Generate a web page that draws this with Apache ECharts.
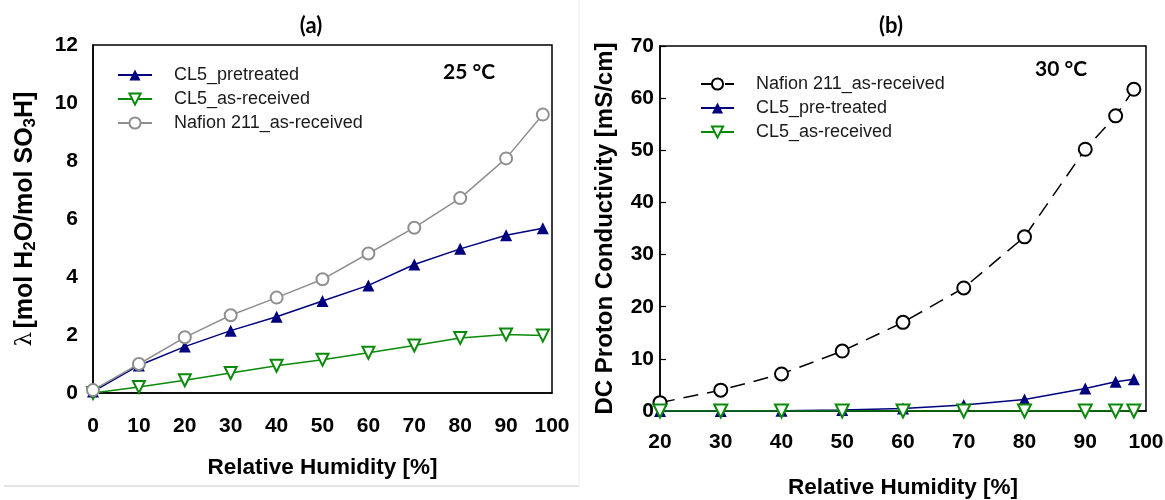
<!DOCTYPE html>
<html>
<head>
<meta charset="utf-8">
<script src="https://cdn.jsdelivr.net/npm/echarts@6/dist/echarts.min.js"></script>
<style>
  html, body { margin: 0; padding: 0; background: #fff; }
  #wrap { position: relative; width: 1165px; height: 500px; }
  #chartA { position: absolute; left: 0; top: 0; width: 580px; height: 500px; }
  #chartB { position: absolute; left: 580px; top: 0; width: 585px; height: 500px; }
</style>
</head>
<body>
<div id="wrap">
  <div id="chartA"></div>
  <div id="chartB"></div>
</div>
<script>
  // (a) water uptake at 25 °C
  const rhA = [0, 10, 20, 30, 40, 50, 60, 70, 80, 90, 98];
  const cl5PretreatedA = [0.05, 0.95, 1.6, 2.15, 2.63, 3.17, 3.71, 4.43, 4.97, 5.44, 5.68];
  const cl5AsReceivedA = [0, 0.21, 0.44, 0.69, 0.94, 1.15, 1.39, 1.64, 1.9, 2.02, 1.98];
  const nafionA = [0.1, 1.0, 1.92, 2.68, 3.29, 3.92, 4.81, 5.7, 6.72, 8.09, 9.6];

  // (b) DC proton conductivity at 30 °C
  const rhB = [20, 30, 40, 50, 60, 70, 80, 90, 95, 98];
  const nafionB = [1.6, 4.0, 7.1, 11.5, 17.0, 23.6, 33.4, 50.2, 56.6, 61.7];
  const cl5PretreatedB = [0, 0, 0.05, 0.2, 0.5, 1.15, 2.2, 4.3, 5.6, 6.1];
  const cl5AsReceivedB = [0, 0, 0, 0, 0, 0, 0, 0, 0, 0];

  const NAVY = '#00007f';
  const GREEN = '#0a8a0a';
  const GREY = '#8f8f8f';
  const ARIAL = '"Liberation Sans", Arial, sans-serif';
  const CAL = 'Lato, "Open Sans", sans-serif';

  function pairs(xs, ys) {
    return xs.map(function (x, i) { return [x, ys[i]]; });
  }

  function boldText(size) {
    return { color: '#000', fontFamily: ARIAL, fontWeight: 'bold', fontSize: size };
  }

  // ---------- chart (a) ----------
  let chartA = echarts.init(document.getElementById('chartA'));
  chartA.setOption({
    animation: false,
    backgroundColor: '#fff',
    grid: {
      left: 93, right: 28, top: 45, bottom: 107,
      outerBoundsMode: 'none',
      show: true, borderColor: '#000', borderWidth: 1.5
    },
    legend: {
      orient: 'vertical',
      left: 117,
      top: 66,
      padding: 0,
      itemWidth: 34,
      itemHeight: 14,
      itemGap: 6,
      textStyle: { fontFamily: ARIAL, fontSize: 18, color: '#1a1a1a', padding: [0, 0, 0, 17] },
      data: ['CL5_pretreated', 'CL5_as-received', 'Nafion 211_as-received']
    },
    xAxis: {
      type: 'value',
      min: 0, max: 100, interval: 10,
      name: 'Relative Humidity [%]',
      nameLocation: 'middle',
      nameGap: 63,
      nameTextStyle: boldText(22.5),
      axisLine: { lineStyle: { color: '#000', width: 1.5 } },
      axisTick: { show: false },
      splitLine: { show: false },
      axisLabel: Object.assign(boldText(21), { margin: 23 })
    },
    yAxis: {
      type: 'value',
      min: 0, max: 12, interval: 2,
      name: '{l|λ} {b|[mol H}{s|2}{b|O/mol SO}{s|3}{b|H]}',
      nameLocation: 'middle',
      nameGap: 54,
      nameTextStyle: {
        rich: {
          l: { fontFamily: '"DejaVu Serif", serif', fontSize: 23, color: '#000' },
          b: { fontFamily: ARIAL, fontWeight: 'bold', fontSize: 25, color: '#000' },
          s: { fontFamily: ARIAL, fontWeight: 'bold', fontSize: 17, color: '#000', padding: [10, 0, 0, 0] }
        }
      },
      axisLine: { show: true, lineStyle: { color: '#000', width: 1.5 } },
      axisTick: { show: false },
      splitLine: { show: false },
      axisLabel: Object.assign(boldText(21), { margin: 15 })
    },
    graphic: [
      { type: 'text', x: 311, y: 26, style: { text: '(a)', font: 'bold 22px ' + CAL, fill: '#000', textAlign: 'center', textVerticalAlign: 'middle' } },
      { type: 'text', x: 469, y: 72, style: { text: '25 °C', font: 'bold 21px ' + CAL, fill: '#000', textAlign: 'center', textVerticalAlign: 'middle' } },
      { type: 'line', shape: { x1: 4, y1: 486, x2: 579, y2: 486 }, style: { stroke: '#c8c8c8', lineWidth: 1 } },
      { type: 'line', shape: { x1: 579, y1: 0, x2: 579, y2: 486 }, style: { stroke: '#ececec', lineWidth: 1 } }
    ],
    series: [
      {
        name: 'CL5_pretreated', type: 'line',
        data: pairs(rhA, cl5PretreatedA),
        symbol: 'triangle', symbolSize: 12,
        lineStyle: { color: NAVY, width: 1.5 },
        itemStyle: { color: NAVY }
      },
      {
        name: 'CL5_as-received', type: 'line',
        data: pairs(rhA, cl5AsReceivedA),
        symbol: 'emptyTriangle', symbolSize: 12, symbolRotate: 180,
        lineStyle: { color: GREEN, width: 1.5 },
        itemStyle: { color: GREEN, borderColor: GREEN, borderWidth: 1.5 }
      },
      {
        name: 'Nafion 211_as-received', type: 'line',
        data: pairs(rhA, nafionA),
        symbol: 'emptyCircle', symbolSize: 12,
        lineStyle: { color: GREY, width: 1.5 },
        itemStyle: { color: GREY, borderColor: GREY, borderWidth: 1.5 }
      }
    ]
  });

  // ---------- chart (b) ----------
  let chartB = echarts.init(document.getElementById('chartB'));
  chartB.setOption({
    animation: false,
    backgroundColor: '#fff',
    grid: {
      left: 80, right: 19, top: 46, bottom: 89,
      outerBoundsMode: 'none',
      show: true, borderColor: '#000', borderWidth: 1.5
    },
    legend: {
      orient: 'vertical',
      left: 120,
      top: 75,
      padding: 0,
      itemWidth: 33,
      itemHeight: 14,
      itemGap: 6,
      textStyle: { fontFamily: ARIAL, fontSize: 18, color: '#1a1a1a', padding: [0, 0, 0, 17] },
      data: ['Nafion 211_as-received', 'CL5_pre-treated', 'CL5_as-received']
    },
    xAxis: {
      type: 'value',
      min: 20, max: 100, interval: 10,
      name: 'Relative Humidity [%]',
      nameLocation: 'middle',
      nameGap: 65,
      nameTextStyle: boldText(22.5),
      axisLine: { lineStyle: { color: '#000', width: 1.5 } },
      axisTick: { show: false },
      splitLine: { show: false },
      axisLabel: Object.assign(boldText(21), { margin: 21 })
    },
    yAxis: {
      type: 'value',
      min: 0, max: 70, interval: 10,
      name: 'DC Proton Conductivity [mS/cm]',
      nameLocation: 'middle',
      nameGap: 43,
      nameTextStyle: boldText(24),
      axisLine: { show: true, lineStyle: { color: '#000', width: 1.5 } },
      axisTick: { show: true, inside: true, length: 6, lineStyle: { color: '#000', width: 1.2 } },
      splitLine: { show: false },
      axisLabel: Object.assign(boldText(21), { margin: 6 })
    },
    graphic: [
      { type: 'text', x: 311, y: 26, style: { text: '(b)', font: 'bold 22px ' + CAL, fill: '#000', textAlign: 'center', textVerticalAlign: 'middle' } },
      { type: 'text', x: 481, y: 69, style: { text: '30 °C', font: 'bold 21px ' + CAL, fill: '#000', textAlign: 'center', textVerticalAlign: 'middle' } }
    ],
    series: [
      {
        name: 'Nafion 211_as-received', type: 'line',
        data: pairs(rhB, nafionB),
        symbol: 'emptyCircle', symbolSize: 13,
        lineStyle: { color: '#000', width: 1.5, type: [15, 9] },
        itemStyle: { color: '#000', borderColor: '#000', borderWidth: 1.5 }
      },
      {
        name: 'CL5_pre-treated', type: 'line',
        data: pairs(rhB, cl5PretreatedB),
        symbol: 'triangle', symbolSize: 12,
        lineStyle: { color: NAVY, width: 1.5 },
        itemStyle: { color: NAVY }
      },
      {
        name: 'CL5_as-received', type: 'line',
        data: pairs(rhB, cl5AsReceivedB),
        symbol: 'emptyTriangle', symbolSize: 13, symbolRotate: 180,
        lineStyle: { color: GREEN, width: 1.5 },
        itemStyle: { color: GREEN, borderColor: GREEN, borderWidth: 1.5 }
      }
    ]
  });
</script>
</body>
</html>
